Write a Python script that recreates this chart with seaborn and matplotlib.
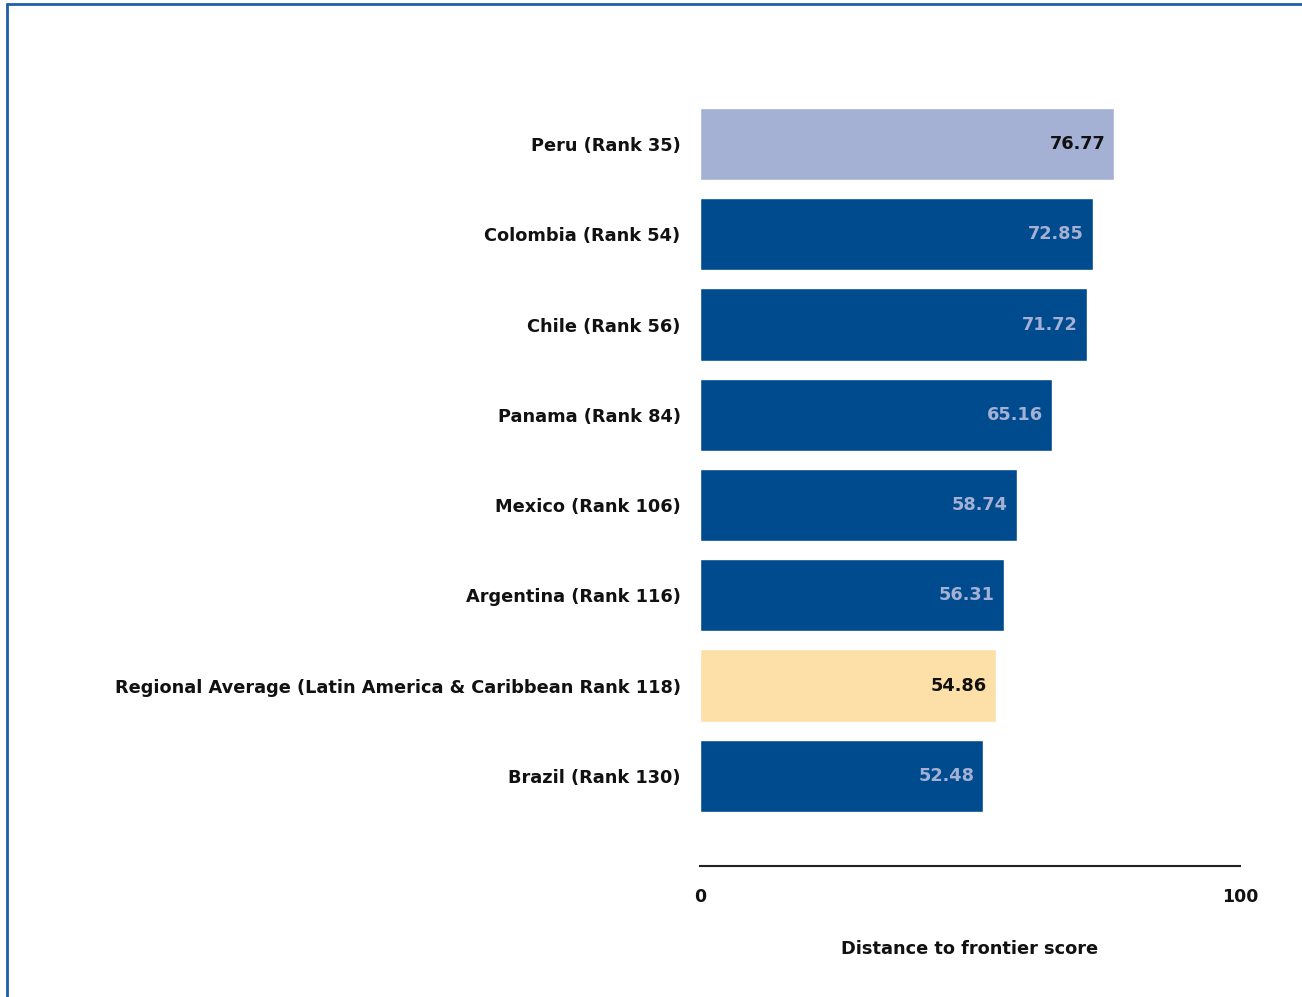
import matplotlib
matplotlib.use("Agg")
import matplotlib.pyplot as plt
import seaborn as sns
from matplotlib.lines import Line2D

labels = [
    "Peru (Rank 35)",
    "Colombia (Rank 54)",
    "Chile (Rank 56)",
    "Panama (Rank 84)",
    "Mexico (Rank 106)",
    "Argentina (Rank 116)",
    "Regional Average (Latin America & Caribbean Rank 118)",
    "Brazil (Rank 130)",
]
scores = [76.77, 72.85, 71.72, 65.16, 58.74, 56.31, 54.86, 52.48]

dark = "#004B8D"
light = "#A4B1D4"
peach = "#FDDFA8"
bar_colors = [light, dark, dark, dark, dark, dark, peach, dark]
text_colors = ["#111111", light, light, light, light, light, "#111111", light]
text_weights = ["bold", "semibold", "semibold", "semibold", "semibold", "semibold", "semibold", "semibold"]

sns.set_theme(style="white")
plt.rcParams["font.family"] = ["DejaVu Sans"]

fig = plt.figure(figsize=(13.02, 9.97), dpi=100)
ax = fig.add_axes([0.5376, 0.1314, 0.4147, 0.7693])

sns.barplot(x=scores, y=labels, hue=labels, palette=bar_colors, legend=False,
            orient="h", width=0.8, ax=ax, saturation=1)

for i, v in enumerate(scores):
    ax.text(v - 1.7, i, f"{v:.2f}", ha="right", va="center", fontsize=12.8,
            color=text_colors[i], fontweight=text_weights[i])

ax.set_xlim(0, 100)
ax.set_ylim(8.0, -0.5)
ax.set_xticks([0, 100])
ax.set_xticklabels(["0", "100"], fontsize=12.5, fontweight="bold", color="#111111")
ax.tick_params(axis="x", length=0, pad=16)
ax.tick_params(axis="y", length=0, pad=14, labelsize=12.8, labelcolor="#111111")
for t in ax.get_yticklabels():
    t.set_fontweight("bold")
ax.set_ylabel("")
ax.set_xlabel("Distance to frontier score", fontsize=12.8, fontweight="bold",
              color="#111111", labelpad=24)

for s in ["top", "right", "left"]:
    ax.spines[s].set_visible(False)
ax.spines["bottom"].set_color("#222222")
ax.spines["bottom"].set_linewidth(1.5)

# page frame
fig.add_artist(Line2D([7 / 1302, 7 / 1302], [0, 1 - 4 / 997], transform=fig.transFigure,
                      color="#1F5FA8", linewidth=2))
fig.add_artist(Line2D([7 / 1302, 1], [1 - 4 / 997, 1 - 4 / 997], transform=fig.transFigure,
                      color="#1F5FA8", linewidth=2))

fig.savefig("out.png", dpi=100)
